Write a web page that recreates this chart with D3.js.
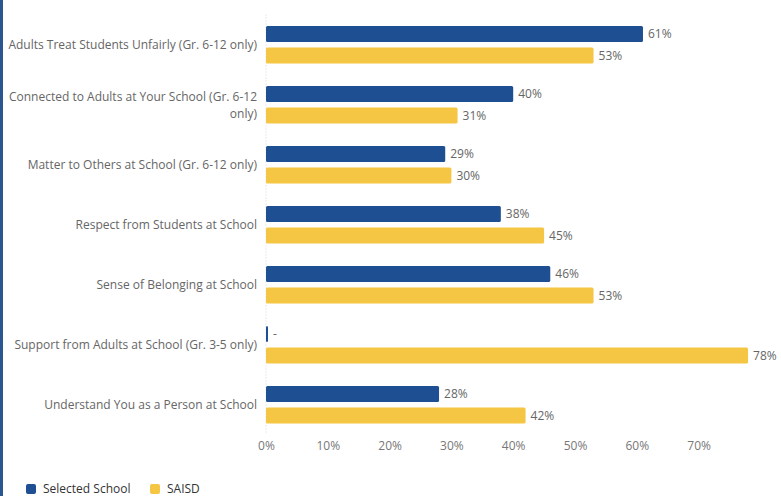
<!DOCTYPE html>
<html><head><meta charset="utf-8">
<script src="https://cdn.jsdelivr.net/npm/d3@7"></script>
<style>
html,body{margin:0;padding:0;background:#fff;}
svg{display:block;font-family:"Open Sans",sans-serif;}
</style></head><body>
<svg id="c" width="781" height="496"></svg>
<script>
const categories = [
  "Adults Treat Students Unfairly (Gr. 6-12 only)",
  "Connected to Adults at Your School (Gr. 6-12 only)",
  "Matter to Others at School (Gr. 6-12 only)",
  "Respect from Students at School",
  "Sense of Belonging at School",
  "Support from Adults at School (Gr. 3-5 only)",
  "Understand You as a Person at School"
];
const selectedSchool = [61, 40, 29, 38, 46, null, 28];
const saisd = [53, 31, 30, 45, 53, 78, 42];
const seriesNames = ["Selected School", "SAISD"];
const xTicks = [0, 10, 20, 30, 40, 50, 60, 70];

const colors = ["#1f4f93", "#f4c643"];
const svg = d3.select("#c");
const W = 781, H = 496;
const plotLeft = 266, plotTop = 14.5, plotH = 420;

// left accent line
svg.append("rect").attr("x",0).attr("y",0).attr("width",3).attr("height",H).attr("fill","#2b5690");

const x = d3.scaleLinear().domain([0, 100]).range([plotLeft, plotLeft + 618]);
const y = d3.scaleBand().domain(categories).range([plotTop, plotTop + plotH]).paddingInner(0).paddingOuter(0);
const inner = d3.scaleBand().domain([0,1]).range([11.5, 49]).paddingInner(0.25);

// baseline dotted
svg.append("line").attr("x1",x(0)).attr("x2",x(0)).attr("y1",plotTop).attr("y2",plotTop+plotH)
  .attr("stroke","#d6d6d6").attr("stroke-dasharray","1,2");

const data = categories.map((c,i)=>({c, vals:[selectedSchool[i], saisd[i]]}));
const g = svg.append("g");
data.forEach(d=>{
  d.vals.forEach((v,j)=>{
    const yy = y(d.c) + inner(j);
    const w = v==null ? 2 : x(v)-x(0);
    g.append("rect").attr("x",x(0)).attr("y",yy).attr("width",w).attr("height",inner.bandwidth())
      .attr("rx",1.5).attr("fill",colors[j]);
    g.append("text").attr("x",x(0)+w+5).attr("y",yy+inner.bandwidth()/2).attr("dy","0.35em")
      .attr("font-size",12).attr("fill","#666").text(v==null?"-":v+"%");
  });
});

// category labels with wrapping
const fs = 12;
const maxW = 252;
data.forEach(d=>{
  const words = d.c.split(" ");
  let lines=[], line=[];
  const tmp = svg.append("text").attr("font-size",fs);
  words.forEach(w=>{
    line.push(w);
    tmp.text(line.join(" "));
    if(tmp.node().getComputedTextLength()>maxW && line.length>1){
      line.pop(); lines.push(line.join(" ")); line=[w];
    }
  });
  lines.push(line.join(" "));
  tmp.remove();
  const cy = y(d.c)+y.bandwidth()/2 + (lines.length>1 ? 1 : 0);
  const lh = 16.5;
  lines.forEach((l,k)=>{
    svg.append("text").attr("text-anchor","end").attr("font-size",fs).attr("fill","#666")
      .attr("x",257).attr("y",cy + (k-(lines.length-1)/2)*lh).attr("dy","0.35em").text(l);
  });
});

// x axis labels
const ax = svg.append("g").attr("transform",`translate(0,${plotTop+plotH})`)
  .call(d3.axisBottom(x).tickValues(xTicks).tickFormat(d=>d+"%").tickSize(0).tickPadding(7));
ax.select(".domain").remove();
ax.selectAll("text").attr("font-family","Open Sans, sans-serif").attr("font-size",12).attr("fill","#777");

// legend
const lg = svg.append("g").attr("transform","translate(26,484)");
const lx = [0, 124];
seriesNames.forEach((n,i)=>{
  lg.append("rect").attr("x",lx[i]).attr("y",0).attr("width",10).attr("height",10).attr("rx",2).attr("fill",colors[i]);
  lg.append("text").attr("x",lx[i]+17).attr("y",5).attr("dy","0.35em").attr("font-size",12).attr("fill","#333").text(n);
});
</script>
</body></html>
